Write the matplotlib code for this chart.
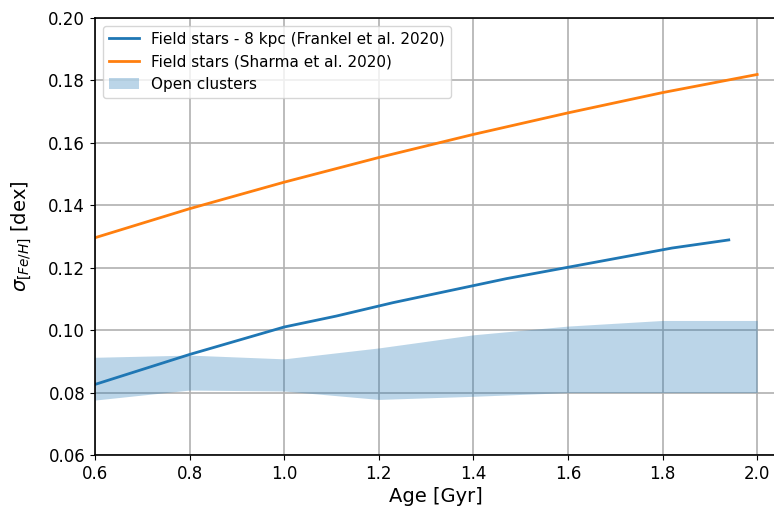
import matplotlib
matplotlib.use("Agg")
import matplotlib.pyplot as plt

# Frankel et al. 2020 field stars (8 kpc)
frankel_age = [0.6, 0.8, 1.0, 1.11, 1.23, 1.47, 1.82, 1.94]
frankel_sig = [0.0826, 0.0922, 0.1010, 0.1045, 0.1088, 0.1165, 0.1263, 0.1289]

# Sharma et al. 2020 field stars
sharma_age = [0.6, 0.8, 1.0, 1.2, 1.4, 1.6, 1.8, 2.0]
sharma_sig = [0.1296, 0.1389, 0.1474, 0.1553, 0.1627, 0.1696, 0.1761, 0.1819]

# open cluster band
oc_age = [0.6, 0.8, 1.0, 1.2, 1.4, 1.6, 1.8, 2.0]
oc_low = [0.0776, 0.0808, 0.0805, 0.0778, 0.0788, 0.0800, 0.0800, 0.0800]
oc_high = [0.0913, 0.0920, 0.0908, 0.0943, 0.0985, 0.1013, 0.1031, 0.1031]

fig = plt.figure(figsize=(7.74, 5.11), dpi=100)
ax = fig.add_axes([0.1227, 0.1096, 0.88, 0.8552])

ax.plot(frankel_age, frankel_sig, color="C0", lw=2, label="Field stars - 8 kpc (Frankel et al. 2020)")
ax.plot(sharma_age, sharma_sig, color="C1", lw=2, label="Field stars (Sharma et al. 2020)")
ax.fill_between(oc_age, oc_low, oc_high, color="C0", alpha=0.3, lw=0, label="Open clusters")

ax.set_xlim(0.6, 2.04)
ax.set_ylim(0.06, 0.20)
ax.set_xticks([0.6, 0.8, 1.0, 1.2, 1.4, 1.6, 1.8, 2.0])
ax.set_yticks([0.06, 0.08, 0.10, 0.12, 0.14, 0.16, 0.18, 0.20])
ax.grid(True, color="#b0b0b0", lw=1.2)
ax.set_axisbelow(True)
ax.tick_params(labelsize=12)
for s in ax.spines.values():
    s.set_linewidth(1.2)

ax.set_xlabel("Age [Gyr]", fontsize=14, labelpad=3)
ax.set_ylabel(r"$\sigma_{[Fe/H]}$ [dex]", fontsize=14, labelpad=10)
ax.legend(loc="upper left", fontsize=11)

fig.savefig("out.png", dpi=100)
